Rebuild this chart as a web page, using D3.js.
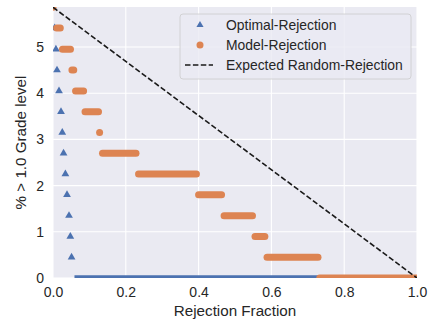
<!DOCTYPE html>
<meta charset="utf-8">
<script src="https://cdn.jsdelivr.net/npm/d3@7"></script>
<style>
body { margin: 0; background: #fff; }
text { font-family: "Liberation Sans", Arial, sans-serif; fill: #262626; }
</style>
<body>
<script>
// optimal rejection: single triangles before the flat zero run
var optX = [0, 0.0045, 0.008, 0.011, 0.0165, 0.022, 0.0255, 0.029, 0.034, 0.0385, 0.044, 0.0476, 0.051]
var optY = [5.86, 5.41, 4.95, 4.50, 4.05, 3.60, 3.15, 2.70, 2.25, 1.80, 1.35, 0.90, 0.45]
var optZeroRun = [0.059, 1.0]

// model rejection: runs of points at a constant level
var modelLevel = [5.86, 5.41, 4.95, 4.50, 4.05, 3.60, 3.15, 2.70, 2.25, 1.80, 1.35, 0.90, 0.45, 0]
var modelStart = [0, 0.010, 0.026, 0.052, 0.062, 0.088, 0.128, 0.136, 0.235, 0.400, 0.470, 0.555, 0.588, 0.733]
var modelEnd   = [0, 0.020, 0.048, 0.057, 0.084, 0.125, 0.128, 0.228, 0.394, 0.463, 0.548, 0.582, 0.728, 1.0]

var randomLine = [[0, 5.86], [1, 0]]

var xTicks = [0, 0.2, 0.4, 0.6, 0.8, 1.0]
var yTicks = [0, 1, 2, 3, 4, 5]
var legendLabels = ["Optimal-Rejection", "Model-Rejection", "Expected Random-Rejection"]

var W = 434, H = 322
var m = {left: 53, right: 17, top: 7, bottom: 44}
var w = W - m.left - m.right, h = H - m.top - m.bottom
var blue = "#4C72B0", orange = "#DD8452"

var svg = d3.select("body").append("svg").attr("width", W).attr("height", H)
var g = svg.append("g").attr("transform", "translate(" + m.left + "," + m.top + ")")

var x = d3.scaleLinear().domain([0, 1]).range([0, w])
var y = d3.scaleLinear().domain([0, 5.866]).range([h, 0])

g.append("defs").append("clipPath").attr("id", "clip").append("rect").attr("width", w).attr("height", h)

g.append("rect").attr("width", w).attr("height", h).attr("fill", "#EAEAF2")

// grid
g.selectAll(".gx").data(xTicks).enter().append("line")
  .attr("x1", d => x(d)).attr("x2", d => x(d)).attr("y1", 0).attr("y2", h)
  .attr("stroke", "#fff").attr("stroke-width", 1.1)
g.selectAll(".gy").data(yTicks).enter().append("line")
  .attr("y1", d => y(d)).attr("y2", d => y(d)).attr("x1", 0).attr("x2", w)
  .attr("stroke", "#fff").attr("stroke-width", 1.1)

// axes (no tick marks, darkgrid style)
var xa = g.append("g").attr("transform", "translate(0," + h + ")")
  .call(d3.axisBottom(x).tickValues(xTicks).tickSize(0).tickPadding(9).tickFormat(d3.format(".1f")))
var ya = g.append("g")
  .call(d3.axisLeft(y).tickValues(yTicks).tickSize(0).tickPadding(9).tickFormat(d3.format("d")))
xa.select(".domain").remove()
ya.select(".domain").remove()
g.selectAll(".tick text").attr("font-size", 14).attr("fill", "#262626")
  .style("font-family", "'Liberation Sans', Arial, sans-serif")

var plot = g.append("g").attr("clip-path", "url(#clip)")

// optimal zero run (dense triangles at y = 0)
plot.append("line")
  .attr("x1", x(optZeroRun[0])).attr("x2", x(optZeroRun[1]))
  .attr("y1", y(0)).attr("y2", y(0))
  .attr("stroke", blue).attr("stroke-width", 5.5)

plot.selectAll(".tri").data(optX).enter().append("path")
  .attr("d", d3.symbol().type(d3.symbolTriangle).size(26))
  .attr("transform", (d, i) => "translate(" + x(d) + "," + y(optY[i]) + ")")
  .attr("fill", blue)

// model runs
plot.selectAll(".run").data(modelLevel).enter().append("line")
  .attr("x1", (d, i) => x(modelStart[i])).attr("x2", (d, i) => x(modelEnd[i]) + 0.01)
  .attr("y1", d => y(d)).attr("y2", d => y(d))
  .attr("stroke", orange).attr("stroke-width", 7).attr("stroke-linecap", "round")

// expected random
plot.append("path").datum(randomLine)
  .attr("d", d3.line().x(d => x(d[0])).y(d => y(d[1])))
  .attr("stroke", "#1a1a1a").attr("stroke-width", 1.6).attr("fill", "none")
  .attr("stroke-dasharray", "5.5,2.4")

// axis labels
svg.append("text").attr("x", m.left + w / 2).attr("y", 316).attr("text-anchor", "middle")
  .attr("font-size", 15.2).text("Rejection Fraction")
svg.append("text").attr("transform", "translate(21," + (m.top + h / 2) + ") rotate(-90)")
  .attr("text-anchor", "middle").attr("dy", "0.35em").attr("font-size", 15.2).text("% > 1.0 Grade level")

// legend
var lg = svg.append("g").attr("transform", "translate(180,14)")
lg.append("rect").attr("width", 231).attr("height", 65).attr("rx", 3)
  .attr("fill", "#EAEAF2").attr("fill-opacity", 0.8).attr("stroke", "#cccccc").attr("stroke-width", 0.8)
var rows = lg.selectAll(".row").data(legendLabels).enter().append("g")
  .attr("transform", (d, i) => "translate(0," + (11 + i * 20) + ")")
rows.append("text").attr("x", 46).attr("dy", "0.35em").attr("font-size", 13.9).text(d => d)
rows.filter((d, i) => i == 0).append("path")
  .attr("d", d3.symbol().type(d3.symbolTriangle).size(22))
  .attr("transform", "translate(20,0)").attr("fill", blue)
rows.filter((d, i) => i == 1).append("circle").attr("cx", 20).attr("r", 3.5).attr("fill", orange)
rows.filter((d, i) => i == 2).append("line").attr("x1", 5).attr("x2", 33)
  .attr("stroke", "#1a1a1a").attr("stroke-width", 1.6).attr("stroke-dasharray", "5.5,2.4")
</script>
</body>
